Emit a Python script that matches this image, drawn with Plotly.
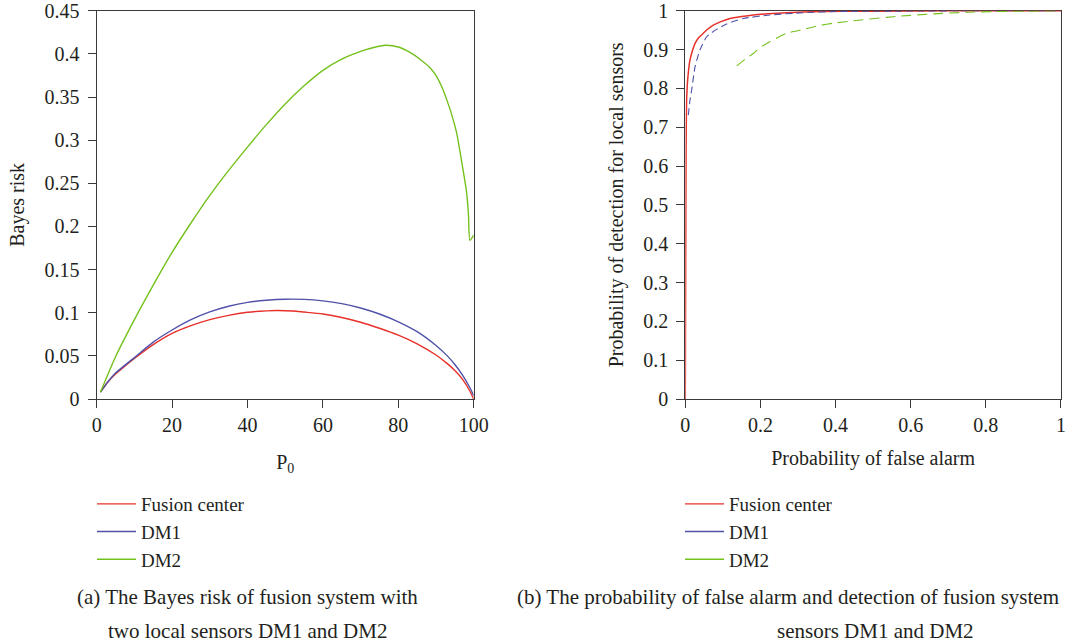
import plotly.graph_objects as go

# ---------------- data: (a) Bayes risk ----------------
p0_fc = [1, 3, 5, 8, 10, 15, 20, 25, 30, 35, 40, 45, 48, 52, 55, 60, 65, 70, 75, 80, 85, 90, 93, 95, 97, 99, 100]
risk_fc = [0.008, 0.020, 0.029, 0.040, 0.047, 0.063, 0.076, 0.085, 0.092, 0.097, 0.1005, 0.1022, 0.1025, 0.102, 0.1008,
           0.0985, 0.0945, 0.089, 0.082, 0.074, 0.064, 0.051, 0.041, 0.033, 0.023, 0.009, 0.0]

p0_dm1 = [1, 3, 5, 8, 10, 15, 20, 25, 30, 35, 40, 45, 50, 55, 60, 65, 70, 75, 80, 85, 90, 93, 95, 97, 99, 100]
risk_dm1 = [0.008, 0.020, 0.030, 0.041, 0.048, 0.066, 0.080, 0.092, 0.101, 0.1075, 0.112, 0.1145, 0.1157, 0.1155,
            0.1138, 0.1105, 0.1055, 0.0985, 0.0895, 0.078, 0.062, 0.050, 0.040, 0.028, 0.013, 0.004]

p0_dm2 = [1, 5, 10, 15, 20, 25, 30, 35, 40, 45, 50, 55, 60, 65, 70, 74, 76.5, 80, 83, 86, 88.4, 90, 92, 93, 94,
          95.5, 97.2, 98.1, 98.6, 99, 100]
risk_dm2 = [0.008, 0.049, 0.092, 0.132, 0.170, 0.204, 0.236, 0.265, 0.292, 0.318, 0.342, 0.363, 0.381, 0.394, 0.403,
            0.408, 0.410, 0.408, 0.402, 0.393, 0.384, 0.375, 0.357, 0.345, 0.332, 0.308, 0.265, 0.240, 0.215, 0.184, 0.190]

# ---------------- data: (b) ROC ----------------
pf_fc = [0, 0.001, 0.002, 0.0035, 0.007, 0.0124, 0.02, 0.026, 0.035, 0.048, 0.06, 0.0745, 0.095, 0.119, 0.15, 0.181,
         0.22, 0.27, 0.358, 0.5, 0.7, 1.0]
pd_fc = [0, 0.35, 0.64, 0.77, 0.83, 0.873, 0.900, 0.916, 0.930, 0.942, 0.953, 0.963, 0.972, 0.980, 0.985, 0.989,
         0.992, 0.995, 0.998, 0.999, 1.0, 1.0]

pf_dm1 = [0.008, 0.0125, 0.0169, 0.026, 0.039, 0.057, 0.083, 0.110, 0.154, 0.225, 0.314, 0.403, 0.55, 0.75, 1.0]
pd_dm1 = [0.731, 0.77, 0.796, 0.856, 0.899, 0.933, 0.952, 0.966, 0.980, 0.989, 0.995, 0.998, 0.999, 1.0, 1.0]

pf_dm2 = [0.137, 0.16, 0.181, 0.199, 0.225, 0.27, 0.314, 0.358, 0.394, 0.447, 0.536, 0.571, 0.66, 0.75, 0.83, 0.92, 1.0]
pd_dm2 = [0.858, 0.876, 0.890, 0.905, 0.920, 0.942, 0.952, 0.962, 0.968, 0.974, 0.983, 0.986, 0.992, 0.996, 0.998,
          0.999, 1.0]

names = ["Fusion center", "DM1", "DM2"]
colors = ["#e8302a", "#4f52a8", "#74c11c"]

FONT = "Liberation Serif"
TXT = "#231f20"
SCREEN_W, SCREEN_H = 1067, 643
PAD_T, PAD_R = 24, 24          # figure extends past the window top / right edge
W, H = SCREEN_W + PAD_R, SCREEN_H + PAD_T
FS = 20


def px_x(p):
    return p / W


def px_y(p):
    return 1 - (p + PAD_T) / H


fig = go.Figure()

# left panel
for xs, ys, nm, c, sm in zip([p0_fc, p0_dm1, p0_dm2], [risk_fc, risk_dm1, risk_dm2], names, colors, [0.8, 0.8, 0.6]):
    fig.add_trace(go.Scatter(x=xs, y=ys, mode="lines", name=nm,
                             line=dict(color=c, width=1.4, shape="spline", smoothing=sm),
                             xaxis="x", yaxis="y", legend="legend"))

# right panel
dashes = [None, "7px,4px", "10px,6px"]
for xs, ys, nm, c, d in zip([pf_fc, pf_dm1, pf_dm2], [pd_fc, pd_dm1, pd_dm2], names, colors, dashes):
    ln = dict(color=c, width=1.5 if d is None else 1.1, shape="spline", smoothing=0.5)
    if d:
        ln["dash"] = d
    fig.add_trace(go.Scatter(x=xs, y=ys, mode="lines", name=nm, line=ln, cliponaxis=False,
                             xaxis="x2", yaxis="y2", showlegend=False))
# legend entries for right panel (solid samples)
for nm, c in zip(names, colors):
    fig.add_trace(go.Scatter(x=[None], y=[None], mode="lines", name=nm, line=dict(color=c, width=1.4),
                             xaxis="x2", yaxis="y2", legend="legend2"))

y_dom = [px_y(399), px_y(10.7)]
axis_common = dict(showline=True, linecolor="#3a3a3a", linewidth=1.3, mirror=True, ticks="outside",
                   ticklen=8, tickwidth=1.3, tickcolor="#3a3a3a", showgrid=False, zeroline=False,
                   layer="below traces",
                   tickfont=dict(family=FONT, size=FS, color=TXT))
title_font = dict(family=FONT, size=FS, color=TXT)

fig.update_layout(
    width=W, height=H, margin=dict(l=0, r=0, t=0, b=0, autoexpand=False),
    paper_bgcolor="white", plot_bgcolor="white",
    font=dict(family=FONT, color=TXT, size=FS),
    xaxis=dict(domain=[px_x(96.7), px_x(473.7)], range=[0, 100], tickvals=[0, 20, 40, 60, 80, 100],
               title=dict(text="P<sub>0</sub>", font=title_font, standoff=19), ticklabelstandoff=0,
               anchor="y", **axis_common),
    yaxis=dict(domain=y_dom, range=[0, 0.4501], tickvals=[0, 0.05, 0.1, 0.15, 0.2, 0.25, 0.3, 0.35, 0.4, 0.45],
               ticktext=["0", "0.05", "0.1", "0.15", "0.2", "0.25", "0.3", "0.35", "0.4", "0.45"],
               title=dict(text="Bayes risk", font=title_font, standoff=14), ticklabelstandoff=4,
               anchor="x", **axis_common),
    xaxis2=dict(domain=[px_x(685.3), px_x(1061)], range=[0, 1.0001], tickvals=[0, 0.2, 0.4, 0.6, 0.8, 1],
                ticktext=["0", "0.2", "0.4", "0.6", "0.8", "1"],
                title=dict(text="Probability of false alarm", font=title_font, standoff=15), ticklabelstandoff=0,
                anchor="y2", **axis_common),
    yaxis2=dict(domain=y_dom, range=[0, 1.0001], tickvals=[0, 0.1, 0.2, 0.3, 0.4, 0.5, 0.6, 0.7, 0.8, 0.9, 1],
                ticktext=["0", "0.1", "0.2", "0.3", "0.4", "0.5", "0.6", "0.7", "0.8", "0.9", "1"],
                title=dict(text="Probability of detection for local sensors", font=title_font, standoff=14),
                ticklabelstandoff=4, anchor="x2", **axis_common),
    legend=dict(x=px_x(92), y=px_y(485), xanchor="left", yanchor="top", bgcolor="rgba(0,0,0,0)",
                font=dict(family=FONT, size=19, color=TXT), tracegroupgap=0, itemwidth=39),
    legend2=dict(x=px_x(680), y=px_y(485), xanchor="left", yanchor="top", bgcolor="rgba(0,0,0,0)",
                 font=dict(family=FONT, size=19, color=TXT), tracegroupgap=0, itemwidth=39),
    showlegend=True,
)

captions = [
    ("(a) The Bayes risk of fusion system with", 247, 597, "center"),
    ("two local sensors DM1 and DM2", 247, 631, "center"),
    ("(b) The probability of false alarm and detection of fusion system", 515, 597, "left"),
    ("sensors DM1 and DM2", 875, 631, "center"),
]
for t, x, y, al in captions:
    fig.add_annotation(text=t, x=px_x(x), y=px_y(y), xref="paper", yref="paper", showarrow=False,
                       xanchor=al, yanchor="middle", font=dict(family=FONT, size=21, color=TXT))

post = ("document.body.style.margin='0';document.body.style.overflow='hidden';"
        "var gd=document.getElementById('{plot_id}');gd.style.marginTop='-%dpx';" % PAD_T)
fig.write_html("out.html", post_script=post)
